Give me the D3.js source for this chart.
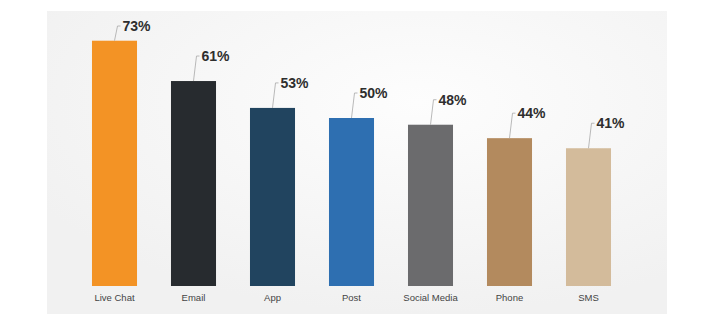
<!DOCTYPE html>
<html>
<head>
<meta charset="utf-8">
<script src="https://cdn.jsdelivr.net/npm/d3@7"></script>
<style>
  html, body { margin: 0; padding: 0; background: #fff; }
  svg { display: block; }
</style>
</head>
<body>
<script>
'use strict';

const w = 716;
const h = 328;

// data
const channels = ['Live Chat', 'Email', 'App', 'Post', 'Social Media', 'Phone', 'SMS'];
const shares = [73, 61, 53, 50, 48, 44, 41];
const barColors = ['#f39325', '#272b2f', '#21445f', '#2e6fb1', '#6b6b6d', '#b38a5e', '#d3bb9b'];

const svg = d3.select('body').append('svg').attr('width', w).attr('height', h);

// soft grey panel behind the chart
const defs = svg.append('defs');
const grad = defs.append('radialGradient')
  .attr('id', 'panel')
  .attr('cx', '60%').attr('cy', '30%').attr('r', '70%');
grad.append('stop').attr('offset', '0%').attr('stop-color', '#fdfdfd');
grad.append('stop').attr('offset', '100%').attr('stop-color', '#f1f1f1');

svg.append('rect')
  .attr('x', 47).attr('y', 11)
  .attr('width', 620).attr('height', 303)
  .attr('fill', 'url(#panel)');

const x = d3.scaleBand()
  .domain(channels)
  .range([75, 628])
  .paddingInner(0.43)
  .paddingOuter(0.215);

const y = d3.scaleLinear()
  .domain([0, 100])
  .range([286, -50]);

const rows = channels.map((c, i) => ({ name: c, value: shares[i], color: barColors[i] }));

// bars
svg.selectAll('rect.bar')
  .data(rows)
  .enter()
  .append('rect')
  .attr('class', 'bar')
  .attr('x', d => x(d.name))
  .attr('y', d => y(d.value))
  .attr('width', x.bandwidth())
  .attr('height', d => y(0) - y(d.value))
  .attr('fill', d => d.color);

// value labels with little leader lines
const labelBase = d => Math.max(31, y(d.value) - 20);
const mid = d => x(d.name) + x.bandwidth() / 2;

svg.selectAll('path.leader')
  .data(rows)
  .enter()
  .append('path')
  .attr('class', 'leader')
  .attr('d', d => {
    const cx = mid(d);
    const ly = labelBase(d) - 5;
    return `M${cx},${y(d.value)} L${cx + 3},${ly} L${cx + 6},${ly}`;
  })
  .attr('fill', 'none')
  .attr('stroke', '#a8a8a8')
  .attr('stroke-width', 0.8);

svg.selectAll('text.value')
  .data(rows)
  .enter()
  .append('text')
  .attr('class', 'value')
  .text(d => d.value + '%')
  .attr('x', d => mid(d) + 8)
  .attr('y', labelBase)
  .attr('font-family', 'Liberation Sans, Arial, sans-serif')
  .attr('font-weight', 'bold')
  .attr('font-size', 14)
  .attr('fill', '#2e2e2e');

// category labels under the bars
svg.selectAll('text.cat')
  .data(rows)
  .enter()
  .append('text')
  .attr('class', 'cat')
  .text(d => d.name)
  .attr('x', mid)
  .attr('y', 301)
  .attr('text-anchor', 'middle')
  .attr('font-family', 'Liberation Sans, Arial, sans-serif')
  .attr('font-size', 9.5)
  .attr('fill', '#444');
</script>
</body>
</html>
